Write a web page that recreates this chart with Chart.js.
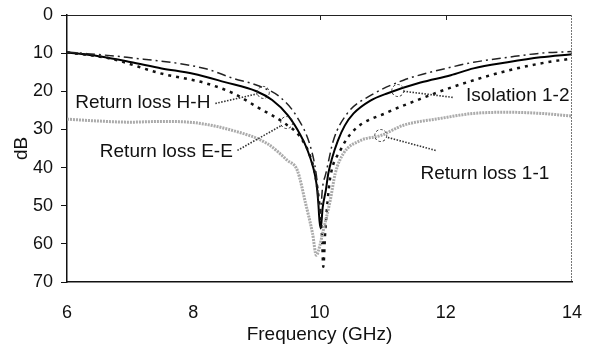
<!DOCTYPE html>
<html lang="en">

<head>
    <meta charset="UTF-8">
    <script src="https://cdn.jsdelivr.net/npm/chart.js@4.4.1/dist/chart.umd.min.js"></script>
    <title>Frequency response</title>
    <style>
        body { margin: 0; background: #fff; }
        #wrap { width: 597px; height: 350px; }
    </style>
</head>

<body>
    <div id="wrap"><canvas id="chart"></canvas></div>

    <script>
        // frequencies (GHz) and levels (dB)
        const hhFreq = [6, 6.5, 7, 7.5, 8, 8.5, 9, 9.25, 9.5, 9.7, 9.8, 9.9, 9.95, 9.98, 10.0, 10.02, 10.05, 10.1, 10.14, 10.2, 10.29, 10.4, 10.54, 10.8, 11.08, 11.6, 12.08, 12.44, 12.98, 13.5, 14]
        const hhDb = [9.8, 10.8, 12.3, 14.0, 15.4, 17.6, 20.0, 22.3, 26.3, 31.5, 35, 40, 44, 49, 54, 56, 50.5, 46, 41.5, 37.5, 33, 29, 25.8, 22.5, 20.5, 17.7, 15.8, 14.0, 12.4, 11.1, 10.3]

        const eeFreq = [6, 6.68, 7.48, 8.2, 8.63, 9.02, 9.43, 9.7, 9.86, 9.94, 10.0, 10.04, 10.06, 10.09, 10.13, 10.17, 10.33, 10.54, 11.08, 11.6, 12.0, 12.5, 13.0, 13.5, 14]
        const eeDb = [9.8, 11.4, 15.3, 17.9, 20.5, 24.2, 28.2, 32.1, 37.4, 42.6, 50, 58, 66, 57, 48.5, 42.6, 35.5, 30.3, 25.5, 22.0, 19.5, 16.8, 14.5, 12.7, 11.4]

        const isoFreq = [6, 6.95, 8.2, 8.63, 9.02, 9.38, 9.65, 9.86, 9.95, 10.01, 10.05, 10.1, 10.22, 10.44, 10.81, 11.33, 12.08, 12.44, 12.98, 13.51, 14]
        const isoDb = [9.7, 11.1, 14.1, 16.6, 18.5, 21.6, 26.9, 34.7, 42, 52, 45, 41.6, 32.9, 25.8, 21.1, 17.1, 13.7, 12.4, 11.1, 10.0, 9.6]

        const s11Freq = [6, 6.5, 7, 7.5, 8, 8.63, 9.17, 9.49, 9.65, 9.78, 9.89, 9.95, 9.98, 10.06, 10.17, 10.25, 10.38, 10.65, 10.97, 11.33, 11.92, 12.44, 12.98, 13.51, 14]
        const s11Db = [27.3, 27.8, 28.1, 27.9, 28.2, 30.3, 33.7, 38.1, 40.8, 49.4, 57.3, 63, 62, 56.5, 48.6, 41.5, 36.3, 32.9, 31.6, 28.9, 27.1, 25.8, 25.5, 25.8, 26.5]

        const xTicks = [6, 8, 10, 12, 14]
        const yTicks = [0, 10, 20, 30, 40, 50, 60, 70]

        // callouts: text anchor, leader start, circled point (GHz, dB)
        const notes = [
            { text: 'Return loss H-H', at: [6.13, 23.0], from: [8.35, 23.2], mark: [9.11, 20.3] },
            { text: 'Return loss E-E', at: [6.52, 35.8], from: [8.70, 35.5], mark: [9.48, 28.2] },
            { text: 'Isolation 1-2', at: [12.32, 21.1], from: [12.11, 21.6], mark: [11.24, 19.8] },
            { text: 'Return loss 1-1', at: [11.6, 41.5], from: [11.84, 35.5], mark: [10.97, 31.6] }
        ]

        const FONT = "'Liberation Sans', Arial, sans-serif"

        function pts(xs, ys) {
            return xs.map((x, i) => ({ x: x, y: ys[i] }))
        }

        const callouts = {
            id: 'callouts',
            afterDatasetsDraw(chart) {
                const ctx = chart.ctx
                const xs = chart.scales.x, ys = chart.scales.y
                const a = chart.chartArea
                ctx.save()

                // top and right frame
                ctx.strokeStyle = '#222'
                ctx.lineWidth = 1
                ctx.beginPath()
                ctx.moveTo(a.left, a.top + 0.5)
                ctx.lineTo(a.right, a.top + 0.5)
                ctx.stroke()
                ctx.strokeStyle = '#777'
                ctx.setLineDash([2, 1])
                ctx.beginPath()
                ctx.moveTo(a.right - 0.5, a.top)
                ctx.lineTo(a.right - 0.5, a.bottom)
                ctx.stroke()
                ctx.setLineDash([])
                ctx.strokeStyle = '#222'
                ;[10, 12].forEach(v => {
                    const px = Math.round(xs.getPixelForValue(v)) + 0.5
                    ctx.beginPath()
                    ctx.moveTo(px, a.top)
                    ctx.lineTo(px, a.top + 5)
                    ctx.stroke()
                })

                const r = 6
                notes.forEach(n => {
                    const cx = xs.getPixelForValue(n.mark[0]), cy = ys.getPixelForValue(n.mark[1])
                    const fx = xs.getPixelForValue(n.from[0]), fy = ys.getPixelForValue(n.from[1])
                    const d = Math.hypot(cx - fx, cy - fy)
                    const ex = cx - (cx - fx) * r / d, ey = cy - (cy - fy) * r / d

                    ctx.strokeStyle = '#333'
                    ctx.lineWidth = 1.6
                    ctx.setLineDash([1.5, 1.5])
                    ctx.beginPath()
                    ctx.moveTo(fx, fy)
                    ctx.lineTo(ex, ey)
                    ctx.stroke()

                    ctx.lineWidth = 1
                    ctx.setLineDash([2.5, 2])
                    ctx.beginPath()
                    ctx.arc(cx, cy, r, 0, Math.PI * 2)
                    ctx.stroke()
                    ctx.setLineDash([])

                    ctx.fillStyle = '#111'
                    ctx.font = '19px ' + FONT
                    ctx.textAlign = 'left'
                    ctx.textBaseline = 'middle'
                    ctx.fillText(n.text, xs.getPixelForValue(n.at[0]), ys.getPixelForValue(n.at[1]))
                })
                ctx.restore()
            }
        }

        const ctx = document.getElementById('chart').getContext('2d')
        const myChart = new Chart(ctx, {
            type: 'line',
            data: {
                datasets: [{
                    label: 'Return loss 1-1',
                    data: pts(s11Freq, s11Db),
                    borderColor: '#ababab',
                    borderWidth: 3,
                    borderDash: [2, 1]
                }, {
                    label: 'Isolation 1-2',
                    data: pts(isoFreq, isoDb),
                    borderColor: '#222',
                    borderWidth: 1.5,
                    borderDash: [9, 4, 2, 4]
                }, {
                    label: 'Return loss E-E',
                    data: pts(eeFreq, eeDb),
                    borderColor: '#111',
                    borderWidth: 2.5,
                    borderDash: [3, 5]
                }, {
                    label: 'Return loss H-H',
                    data: pts(hhFreq, hhDb),
                    borderColor: '#000',
                    borderWidth: 2
                }]
            },
            options: {
                responsive: true,
                maintainAspectRatio: false,
                animation: false,
                layout: { padding: { top: 15, right: 25, left: 0, bottom: 0 } },
                elements: {
                    point: { radius: 0 },
                    line: { cubicInterpolationMode: 'monotone', fill: false }
                },
                plugins: {
                    legend: { display: false },
                    tooltip: { enabled: false }
                },
                scales: {
                    x: {
                        type: 'linear',
                        min: 6,
                        max: 14,
                        afterBuildTicks: s => { s.ticks = xTicks.map(v => ({ value: v })) },
                        afterFit: s => { s.height = 68; s.paddingLeft = 0; s.paddingRight = 0 },
                        grid: { display: false },
                        border: { display: true, color: '#111', width: 1.5 },
                        ticks: { color: '#111', padding: 12, font: { family: FONT, size: 18 } },
                        title: {
                            display: true,
                            text: 'Frequency (GHz)',
                            color: '#111',
                            padding: { top: 0, bottom: 4 },
                            font: { family: FONT, size: 19 }
                        }
                    },
                    y: {
                        type: 'linear',
                        reverse: true,
                        min: 0,
                        max: 70,
                        afterBuildTicks: s => { s.ticks = yTicks.map(v => ({ value: v })) },
                        afterFit: s => { s.width = 67; s.paddingTop = 0; s.paddingBottom = 0 },
                        grid: { drawOnChartArea: false, drawTicks: true, tickLength: 6, color: '#111' },
                        border: { display: true, color: '#111', width: 1.5 },
                        ticks: { color: '#111', padding: 8, font: { family: FONT, size: 18 } },
                        title: {
                            display: true,
                            text: 'dB',
                            color: '#111',
                            padding: { top: 10, bottom: 0 },
                            font: { family: FONT, size: 19 }
                        }
                    }
                }
            },
            plugins: [callouts]
        })
    </script>
</body>

</html>
